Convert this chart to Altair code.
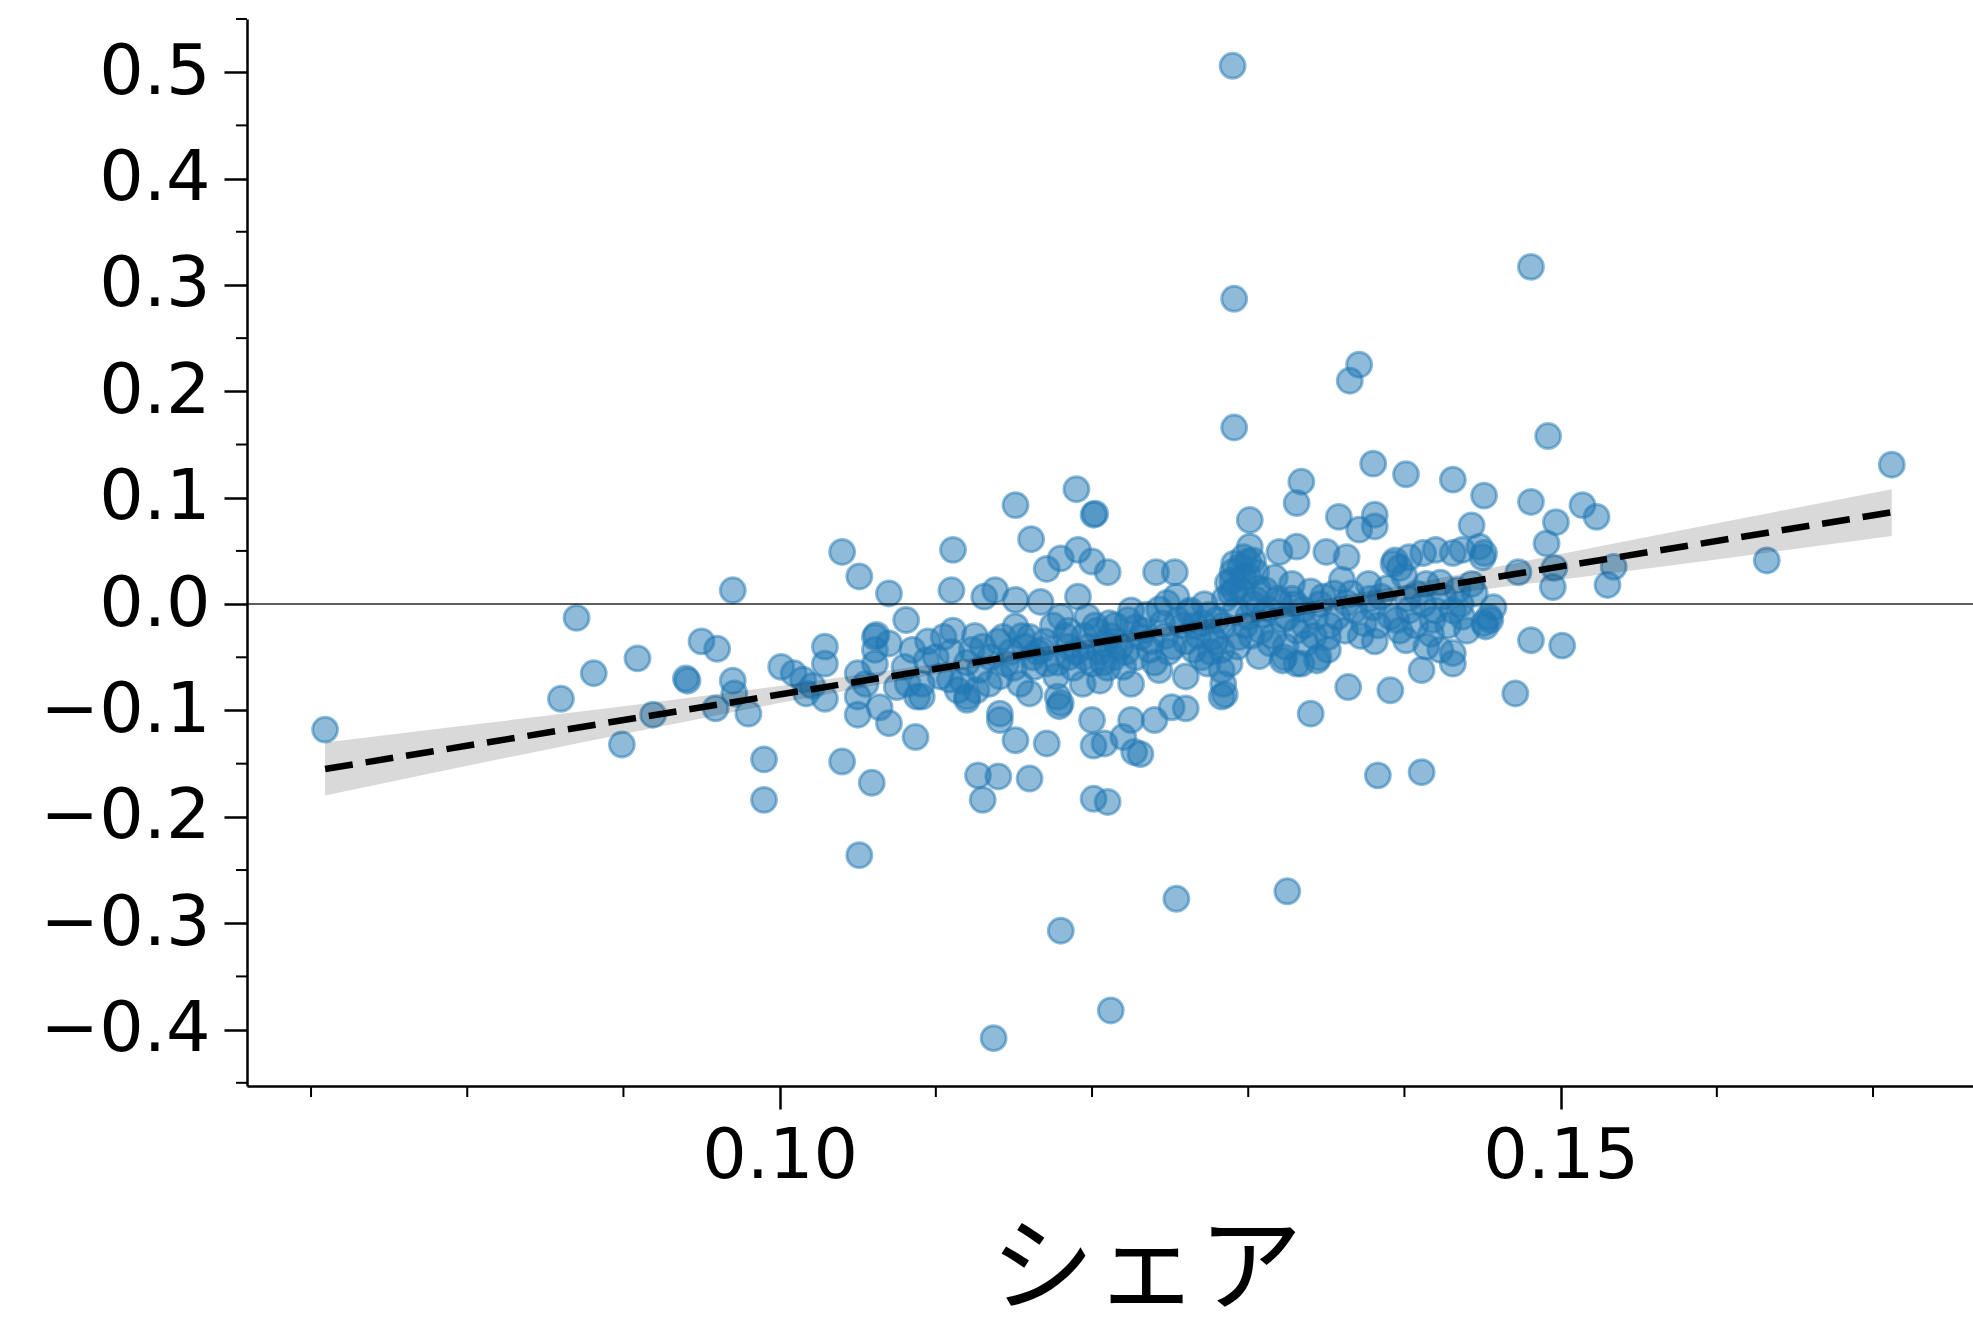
import altair as alt
import pandas as pd

# --- scatter data: share (x) vs. residual (y) ---
# left tail
share_left = [0.0709, 0.0860, 0.0870, 0.0881, 0.0909, 0.0899, 0.0919, 0.0940, 0.0941, 0.0950,
              0.0960, 0.0970, 0.0970, 0.0971, 0.0959, 0.0980, 0.0990, 0.0990, 0.1001, 0.1009,
              0.1015, 0.1021, 0.1029, 0.1029, 0.1017, 0.1029, 0.1040, 0.1051, 0.1070, 0.1040,
              0.1059, 0.1051, 0.1061, 0.1062, 0.1061, 0.1070, 0.1061, 0.1055, 0.1050, 0.1050,
              0.1050, 0.1064, 0.1070, 0.1075]
resid_left = [-0.118, -0.089, -0.013, -0.065, -0.051, -0.132, -0.104, -0.070, -0.072, -0.035,
              -0.042, 0.013, -0.072, -0.084, -0.098, -0.103, -0.146, -0.184, -0.059, -0.065,
              -0.071, -0.077, -0.040, -0.056, -0.084, -0.089, 0.049, 0.026, 0.010, -0.148,
              -0.168, -0.236, -0.031, -0.029, -0.043, -0.037, -0.056, -0.075, -0.065, -0.087,
              -0.104, -0.097, -0.112, -0.078]

# scattered points around the main cloud
share_spread = [0.1380, 0.1401, 0.1431, 0.1451, 0.1481, 0.1514, 0.1497, 0.1491, 0.1495, 0.1334,
                0.1331, 0.1301, 0.1381, 0.1381, 0.1371, 0.1358, 0.1443, 0.1190, 0.1201, 0.1202,
                0.1151, 0.1161, 0.1111, 0.1171, 0.1180, 0.1191, 0.1200, 0.1210, 0.1241, 0.1253,
                0.1301, 0.1320, 0.1331, 0.1350, 0.1363, 0.1394, 0.1403, 0.1420, 0.1431, 0.1448,
                0.1451, 0.1291, 0.1297, 0.1110, 0.1081, 0.1131, 0.1138, 0.1151, 0.1167, 0.1191,
                0.1473, 0.1457, 0.1454, 0.1451, 0.1481, 0.1501, 0.1471, 0.1364, 0.1391, 0.1340,
                0.1383, 0.1411, 0.1254, 0.1325, 0.1127, 0.1140, 0.1130, 0.1160, 0.1201, 0.1210,
                0.1087, 0.1141, 0.1141, 0.1151, 0.1171, 0.1200, 0.1201, 0.1208, 0.1220, 0.1227,
                0.1231, 0.1225, 0.1240, 0.1251, 0.1260, 0.1283, 0.1284, 0.1283, 0.1285, 0.1160,
                0.1180, 0.1178, 0.1120, 0.1114, 0.1088, 0.1082, 0.1351, 0.1381, 0.1401, 0.1411,
                0.1431, 0.1423, 0.1431, 0.1179, 0.1194, 0.1120, 0.1126, 0.1141, 0.1109, 0.1091,
                0.1344, 0.1331, 0.1322, 0.1307, 0.1303, 0.1412, 0.1437, 0.1450, 0.1397, 0.1393,
                0.1496, 0.1534, 0.1530, 0.1523, 0.1492, 0.1712, 0.1632, 0.1455, 0.1452]
resid_spread = [0.132, 0.122, 0.117, 0.102, 0.096, 0.093, 0.077, 0.057, 0.016, 0.115,
                0.095, 0.079, 0.084, 0.073, 0.070, 0.082, 0.074, 0.108, 0.084, 0.085,
                0.093, 0.061, 0.051, 0.033, 0.043, 0.051, 0.040, 0.030, 0.030, 0.030,
                0.054, 0.049, 0.054, 0.049, 0.044, 0.041, 0.044, 0.051, 0.048, 0.054,
                0.048, 0.038, 0.044, 0.013, -0.015, 0.007, 0.013, 0.004, 0.002, 0.007,
                0.030, -0.003, -0.012, -0.018, -0.034, -0.039, -0.084, -0.078, -0.081, -0.103,
                -0.161, -0.158, -0.277, -0.270, -0.161, -0.162, -0.184, -0.164, -0.183, -0.186,
                -0.125, -0.103, -0.109, -0.128, -0.131, -0.109, -0.133, -0.131, -0.125, -0.139,
                -0.141, -0.109, -0.109, -0.097, -0.098, -0.087, -0.075, -0.062, -0.085, -0.084,
                -0.093, -0.087, -0.087, -0.081, -0.087, -0.075, -0.043, -0.035, -0.034, -0.062,
                -0.056, -0.043, -0.046, -0.096, -0.075, -0.090, -0.081, -0.068, -0.071, -0.087,
                -0.053, -0.056, -0.053, -0.049, 0.041, 0.048, 0.051, 0.044, 0.034, 0.038,
                0.034, 0.035, 0.018, 0.082, 0.158, 0.131, 0.041, -0.015, -0.021]

# dense core along the trend
share_core = [0.1085, 0.1094, 0.1105, 0.1111, 0.1123, 0.1128, 0.1134, 0.1103, 0.1117, 0.1080,
              0.1091, 0.1143, 0.1151, 0.1160, 0.1168, 0.1171, 0.1177, 0.1185, 0.1145, 0.1154,
              0.1163, 0.1185, 0.1180, 0.1197, 0.1203, 0.1208, 0.1214, 0.1220, 0.1225, 0.1231,
              0.1237, 0.1243, 0.1200, 0.1205, 0.1211, 0.1225, 0.1245, 0.1248, 0.1254, 0.1263,
              0.1271, 0.1277, 0.1283, 0.1288, 0.1294, 0.1300, 0.1305, 0.1265, 0.1274, 0.1291,
              0.1300, 0.1260, 0.1311, 0.1320, 0.1325, 0.1331, 0.1337, 0.1345, 0.1351, 0.1357,
              0.1363, 0.1314, 0.1323, 0.1334, 0.1328, 0.1348, 0.1360, 0.1343, 0.1368, 0.1374,
              0.1380, 0.1385, 0.1391, 0.1397, 0.1403, 0.1408, 0.1414, 0.1420, 0.1377, 0.1400,
              0.1417, 0.1414, 0.1425, 0.1431, 0.1437, 0.1445, 0.1434, 0.1443,
              0.1175, 0.1185, 0.1195, 0.1205, 0.1215, 0.1215, 0.1222, 0.1228, 0.1235, 0.1240,
              0.1247, 0.1252, 0.1258, 0.1262, 0.1268, 0.1272, 0.1276, 0.1280, 0.1285, 0.1287,
              0.1290, 0.1292, 0.1296, 0.1298, 0.1303, 0.1308, 0.1313, 0.1317, 0.1322, 0.1328,
              0.1335, 0.1340, 0.1210, 0.1195, 0.1188, 0.1165, 0.1157, 0.1148, 0.1135, 0.1125,
              0.1110, 0.1100, 0.1095, 0.1295, 0.1300, 0.1290, 0.1305,
              0.1120, 0.1130, 0.1140, 0.1150, 0.1155, 0.1162, 0.1170, 0.1178, 0.1183, 0.1190,
              0.1198, 0.1202, 0.1207, 0.1212, 0.1218, 0.1223, 0.1228, 0.1233, 0.1238, 0.1243,
              0.1249, 0.1255, 0.1260, 0.1266, 0.1270, 0.1275, 0.1279, 0.1284, 0.1289, 0.1293,
              0.1297, 0.1302, 0.1306, 0.1310, 0.1316, 0.1319, 0.1324, 0.1330, 0.1336, 0.1342,
              0.1346, 0.1352, 0.1355, 0.1362, 0.1366, 0.1372, 0.1378, 0.1383, 0.1389, 0.1395,
              0.1402, 0.1407, 0.1412, 0.1418, 0.1423, 0.1428, 0.1436, 0.1440]
resid_core = [-0.043, -0.053, -0.031, -0.025, -0.043, -0.062, -0.075, -0.068, -0.072, -0.059,
              -0.075, -0.031, -0.021, -0.031, -0.043, -0.056, -0.068, -0.050, -0.056, -0.075,
              -0.059, -0.025, -0.012, -0.012, -0.025, -0.037, -0.050, -0.059, -0.075, -0.031,
              -0.043, -0.062, -0.056, -0.072, -0.018, -0.006, -0.018, 0.001, 0.007, -0.006,
              -0.018, -0.031, -0.043, -0.056, -0.031, -0.012, 0.004, -0.043, -0.056, 0.013,
              0.026, -0.068, 0.013, 0.001, -0.012, -0.025, -0.037, -0.050, -0.031, -0.012,
              0.001, -0.037, -0.050, -0.056, 0.019, 0.007, 0.023, -0.012, -0.006, -0.018,
              -0.003, 0.007, -0.012, -0.025, -0.006, 0.010, 0.019, -0.006, 0.019, 0.026,
              -0.028, -0.040, 0.007, -0.006, -0.012, 0.010, 0.013, 0.019,
              -0.020, -0.040, -0.030, -0.045, -0.020, -0.035, -0.045, -0.022, -0.010, -0.055,
              -0.030, -0.040, -0.020, -0.008, -0.030, 0.000, -0.045, -0.015, 0.005, 0.020,
              0.030, -0.005, 0.012, -0.020, 0.000, -0.025, -0.005, 0.025, -0.015, 0.005,
              -0.005, 0.012, -0.060, -0.050, -0.060, -0.045, -0.040, -0.045, -0.050, -0.030,
              -0.045, -0.050, -0.035, 0.035, 0.040, 0.022, 0.030,
              -0.055, -0.040, -0.035, -0.060, -0.030, -0.050, -0.035, -0.055, -0.030, -0.045,
              -0.040, -0.020, -0.055, -0.030, -0.040, -0.015, -0.050, -0.025, -0.035, -0.005,
              -0.045, -0.015, -0.035, -0.020, -0.050, -0.010, -0.035, -0.020, 0.010, -0.040,
              0.025, -0.030, 0.015, -0.010, -0.030, 0.005, -0.040, 0.000, -0.020, -0.030,
              0.000, -0.020, 0.010, -0.025, 0.010, -0.030, 0.005, -0.020, 0.015, -0.015,
              0.005, -0.020, 0.000, -0.015, 0.020, -0.020, 0.000, -0.025]

# far outliers
share_out = [0.1290, 0.1291, 0.1291, 0.1371, 0.1365, 0.1481, 0.1180, 0.1212, 0.1137]
resid_out = [0.506, 0.287, 0.166, 0.225, 0.210, 0.317, -0.307, -0.382, -0.408]

# fitted regression line and its confidence band
fit_share = [0.0709, 0.1712]
fit_resid = [-0.155, 0.0863]
band_share = [0.0709, 0.080, 0.090, 0.100, 0.110, 0.120, 0.130, 0.140, 0.150, 0.160, 0.1712]
band_low = [-0.180, -0.152, -0.122, -0.093, -0.066, -0.041, -0.018, 0.004, 0.023, 0.042, 0.064]
band_high = [-0.130, -0.114, -0.096, -0.077, -0.056, -0.033, -0.008, 0.018, 0.047, 0.076, 0.108]

# axis ticks
x_major = [0.10, 0.15]
x_minor = [0.07, 0.08, 0.09, 0.11, 0.12, 0.13, 0.14, 0.16, 0.17]
y_major = [-0.4, -0.3, -0.2, -0.1, 0.0, 0.1, 0.2, 0.3, 0.4, 0.5]
y_minor = [-0.45, -0.35, -0.25, -0.15, -0.05, 0.05, 0.15, 0.25, 0.35, 0.45, 0.55]

points = pd.DataFrame({
    "share": share_left + share_spread + share_core + share_out,
    "resid": resid_left + resid_spread + resid_core + resid_out,
})
fit = pd.DataFrame({"share": fit_share, "resid": fit_resid})
band = pd.DataFrame({"share": band_share, "resid": band_low, "hi": band_high})

W, H = 1726, 1067
BLUE = "#1f77b4"
xscale = alt.Scale(domain=[0.0659, 0.1764], nice=False, zero=False)
yscale = alt.Scale(domain=[-0.453, 0.55], nice=False, zero=False)

x_axis = alt.Axis(
    values=x_major, format=".2f", title="シェア", grid=False,
    tickSize=23, tickWidth=2.5, tickColor="black",
    domainColor="black", domainWidth=2.5,
    labelFont="DejaVu Sans", labelFontSize=70, labelColor="black",
    labelPadding=13, labelFlush=False, labelOverlap=False,
    titleFont="Noto Sans CJK JP", titleFontSize=104, titleFontWeight="normal",
    titleColor="black", titleX=899, titleY=216, titleAlign="center",
    titleBaseline="alphabetic",
)
y_axis = alt.Axis(
    values=y_major, format=".1f", title="", grid=False,
    tickSize=23, tickWidth=2.5, tickColor="black",
    domainColor="black", domainWidth=2.5,
    labelFont="DejaVu Sans", labelFontSize=70, labelColor="black",
    labelPadding=14, labelFlush=False, labelOverlap=False,
)

X = alt.X("share:Q", scale=xscale, axis=x_axis, title="シェア")
Y = alt.Y("resid:Q", scale=yscale, axis=y_axis, title="")

scatter = alt.Chart(points).mark_circle(
    size=620, fill=BLUE, stroke=BLUE, fillOpacity=0.5, strokeOpacity=0.5,
    strokeWidth=3, opacity=1,
).encode(x=X, y=Y)

ci = alt.Chart(band).mark_area(color="black", opacity=0.15).encode(
    x=X, y=Y, y2="hi:Q",
)

trend = alt.Chart(fit).mark_line(
    color="black", strokeWidth=6.5, strokeDash=[28, 13],
).encode(x=X, y=Y)

zero = alt.Chart(pd.DataFrame({"resid": [0.0]})).mark_rule(
    color="black", strokeWidth=1.5, opacity=0.85,
).encode(y=Y)

y_minor_ticks = alt.Chart(pd.DataFrame({"resid": y_minor})).mark_rule(
    color="black", strokeWidth=2,
).encode(y=Y, x=alt.value(-11), x2=alt.value(0))

x_minor_ticks = alt.Chart(pd.DataFrame({"share": x_minor})).mark_rule(
    color="black", strokeWidth=2,
).encode(x=X, y=alt.value(H), y2=alt.value(H + 11))

chart = alt.layer(
    scatter, ci, trend, zero, y_minor_ticks, x_minor_ticks
).properties(
    width=W, height=H,
    autosize=alt.AutoSizeParams(type="none"),
    padding={"left": 247, "top": 19, "right": 0, "bottom": 247},
    background="white",
).configure_view(strokeWidth=0)

chart.save("out.html", embed_options={"renderer": "svg", "actions": False})
